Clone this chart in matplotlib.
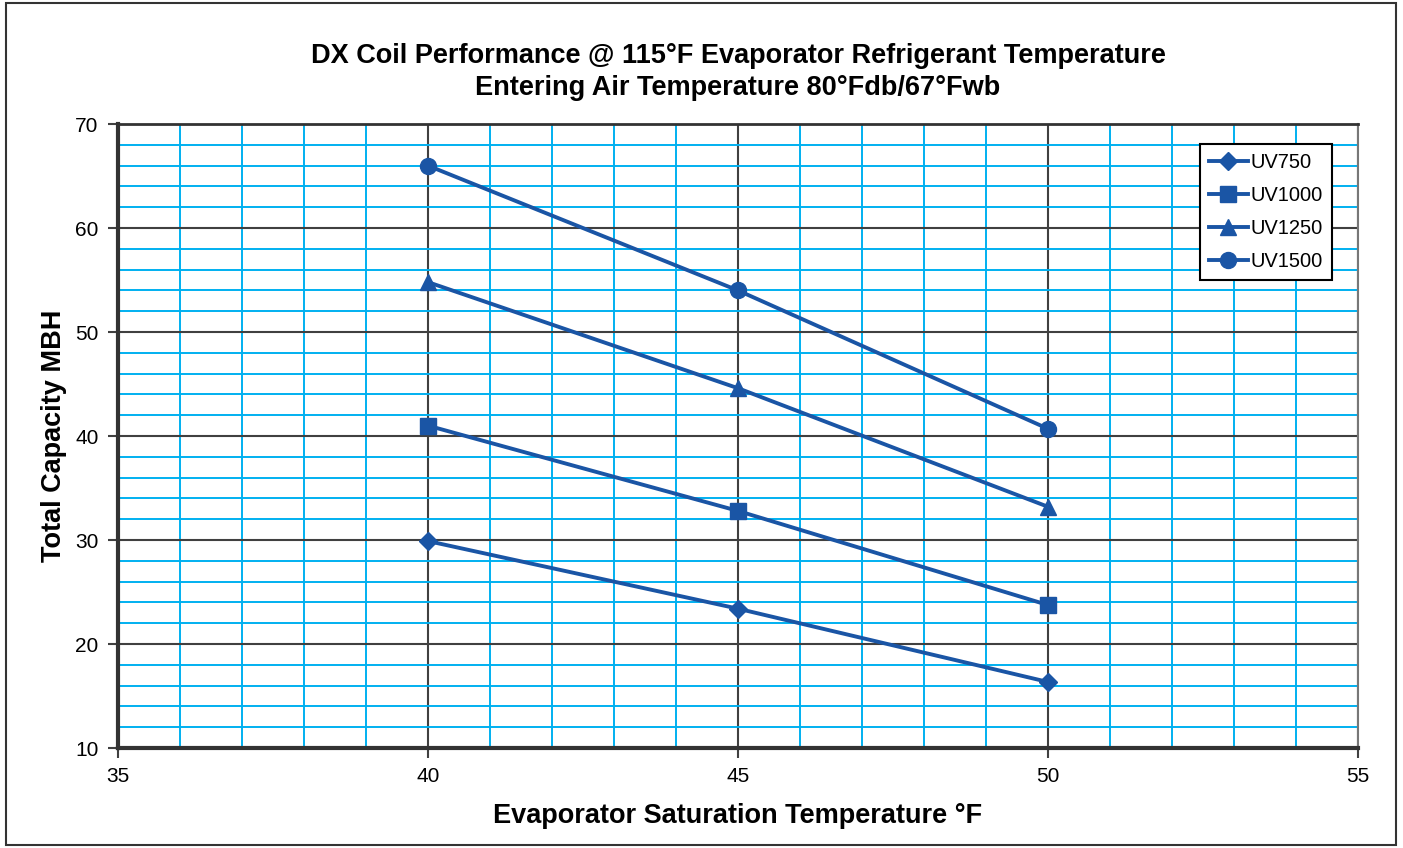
import numpy as np
import matplotlib
matplotlib.use("Agg")
import matplotlib.pyplot as plt
from matplotlib.ticker import MultipleLocator

plt.rcParams['font.family'] = ['Liberation Sans', 'DejaVu Sans']

# data
temps = [40, 45, 50]
uv750 = [29.9, 23.4, 16.35]
uv1000 = [41.0, 32.8, 23.75]
uv1250 = [54.8, 44.6, 33.2]
uv1500 = [66.0, 54.0, 40.7]

series = [
    ("UV750", uv750, "D", 9.5),
    ("UV1000", uv1000, "s", 11),
    ("UV1250", uv1250, "^", 11),
    ("UV1500", uv1500, "o", 11.5),
]

blue = "#1A55A5"
cyan = "#00B0F0"
dark = "#404040"

fig = plt.figure(figsize=(14.03, 8.48), dpi=100)
ax = fig.add_axes([0.0841, 0.1179, 0.8838, 0.7358])

for name, vals, mk, ms in series:
    ax.plot(temps, vals, color=blue, lw=2.8, marker=mk, markersize=ms,
            label=name, zorder=5)

ax.set_xlim(35, 55)
ax.set_ylim(10, 70)
ax.xaxis.set_major_locator(MultipleLocator(5))
ax.yaxis.set_major_locator(MultipleLocator(10))
ax.xaxis.set_minor_locator(MultipleLocator(1))
ax.yaxis.set_minor_locator(MultipleLocator(2))

ax.grid(which='minor', color=cyan, lw=1.4, zorder=1)
ax.grid(which='major', color=dark, lw=1.5, zorder=2)
ax.set_axisbelow(True)

ax.tick_params(which='major', direction='out', length=7, width=1.5,
               color=dark, labelsize=15, pad=7)
ax.tick_params(which='minor', length=0)

for side in ['left', 'bottom']:
    ax.spines[side].set_linewidth(3)
    ax.spines[side].set_color("#333333")
ax.spines['top'].set_linewidth(2)
ax.spines['top'].set_color("#333333")
ax.spines['right'].set_linewidth(1.5)
ax.spines['right'].set_color("#777777")

ax.set_xlabel("Evaporator Saturation Temperature °F", fontsize=19.5,
              fontweight='bold', labelpad=12)
ax.set_ylabel("Total Capacity MBH", fontsize=19.5, fontweight='bold',
              labelpad=6)
ax.set_title("DX Coil Performance @ 115°F Evaporator Refrigerant Temperature\n"
             "Entering Air Temperature 80°Fdb/67°Fwb",
             fontsize=19.5, fontweight='bold', pad=21, linespacing=1.3)

leg = ax.legend(loc='upper right', bbox_to_anchor=(0.979, 0.968),
                fontsize=14.5, frameon=True, fancybox=False,
                edgecolor='black', framealpha=1, borderpad=0.45,
                handlelength=1.9, handletextpad=0.15, labelspacing=0.7,
                borderaxespad=0)
leg.get_frame().set_linewidth(1.5)

# outer border around the whole chart
fig.patches.append(plt.Rectangle((0.004, 0.004), 0.991, 0.992,
                                 transform=fig.transFigure, fill=False,
                                 edgecolor="#333333", lw=1.5))

fig.savefig("out.png", dpi=100)
